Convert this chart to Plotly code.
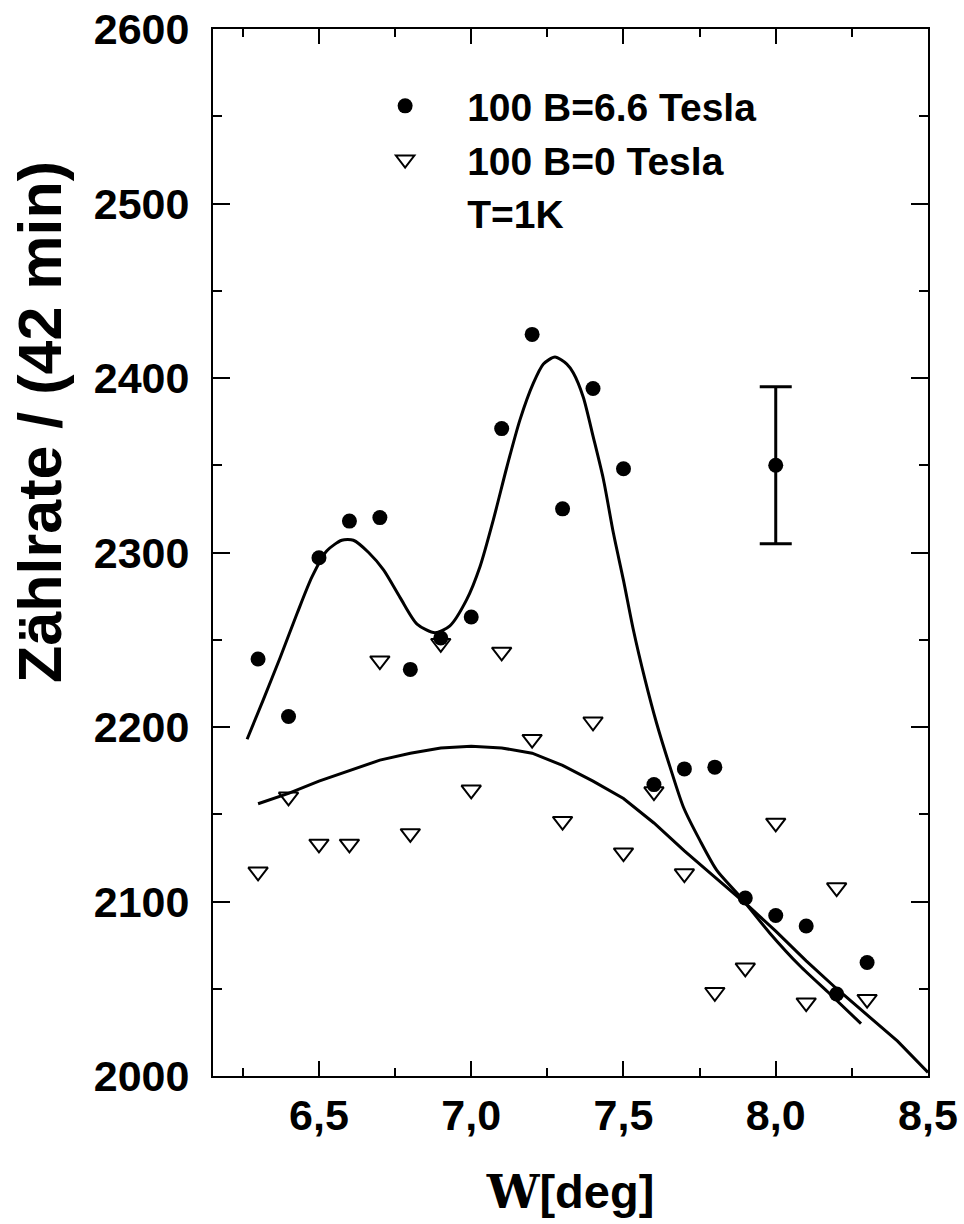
import plotly.graph_objects as go

# ---------------- data ----------------
angle_pts = [6.3, 6.4, 6.5, 6.6, 6.7, 6.8, 6.9, 7.0, 7.1, 7.2, 7.3, 7.4, 7.5,
             7.6, 7.7, 7.8, 7.9, 8.0, 8.1, 8.2, 8.3]
counts_b66 = [2239, 2206, 2297, 2318, 2320, 2233, 2251, 2263, 2371, 2425, 2325, 2394, 2348,
              2167, 2176, 2177, 2102, 2092, 2086, 2047, 2065]
counts_b0 = [2117, 2160, 2133, 2133, 2238, 2139, 2248, 2164, 2243, 2193, 2146, 2203, 2128,
             2163, 2116, 2048, 2062, 2145, 2042, 2108, 2044]

fit_b66_x = [6.264, 6.318, 6.373, 6.428, 6.477, 6.526, 6.575, 6.613, 6.663, 6.712, 6.767,
             6.822, 6.881, 6.93, 6.985, 7.029, 7.073, 7.117, 7.16, 7.204, 7.237, 7.275,
             7.314, 7.335, 7.368, 7.401, 7.434, 7.467, 7.5, 7.532, 7.571, 7.609, 7.653,
             7.697, 7.751, 7.806, 7.882, 7.98, 8.08, 8.178, 8.28]
fit_b66_y = [2193, 2216, 2240, 2265, 2286, 2301, 2307, 2307, 2300, 2290, 2274,
             2259, 2254, 2258, 2273, 2292, 2319, 2349, 2376, 2397, 2408, 2412,
             2408, 2403, 2389, 2366, 2342, 2311, 2284, 2256, 2227, 2202, 2177,
             2154, 2135, 2118, 2103, 2082, 2063, 2047, 2030]

fit_b0_x = [6.3, 6.4, 6.5, 6.6, 6.7, 6.8, 6.9, 7.0, 7.1, 7.2, 7.3, 7.4, 7.5, 7.6,
            7.7, 7.8, 7.9, 8.0, 8.1, 8.2, 8.3, 8.4, 8.5]
fit_b0_y = [2156, 2162, 2169, 2175, 2181, 2185, 2188, 2189, 2188, 2185, 2178, 2169, 2159, 2145,
            2129, 2114, 2099, 2083, 2066, 2050, 2035, 2020, 2002]

errbar_x = [8.0]
errbar_y = [2350]
errbar_err = [45]

x_tick_vals = [6.5, 7.0, 7.5, 8.0, 8.5]
x_tick_text = ["6,5", "7,0", "7,5", "8,0", "8,5"]
y_tick_vals = [2000, 2100, 2200, 2300, 2400, 2500, 2600]
y_tick_text = ["2000", "2100", "2200", "2300", "2400", "2500", "2600"]

legend_labels = ["100 B=6.6 Tesla", "100 B=0 Tesla", "T=1K"]

FONT = "Liberation Sans, Arial, Helvetica, sans-serif"

fig = go.Figure()

fig.add_trace(go.Scatter(x=fit_b0_x, y=fit_b0_y, mode="lines",
                         line=dict(color="black", width=3), showlegend=False))
fig.add_trace(go.Scatter(x=fit_b66_x, y=fit_b66_y, mode="lines",
                         line=dict(color="black", width=3, shape="spline", smoothing=0.7),
                         showlegend=False))

fig.add_trace(go.Scatter(x=angle_pts, y=counts_b0, mode="markers", name=legend_labels[1],
                         marker=dict(symbol="triangle-down-open", size=17, color="black",
                                     line=dict(color="black", width=2)),
                         legendgroup="b", legendrank=2))
fig.add_trace(go.Scatter(x=angle_pts, y=counts_b66, mode="markers", name=legend_labels[0],
                         marker=dict(symbol="circle", size=15, color="black"),
                         legendgroup="a", legendrank=1))
fig.add_trace(go.Scatter(x=[None], y=[None], mode="markers", name=legend_labels[2],
                         marker=dict(size=1, color="rgba(0,0,0,0)"),
                         legendgroup="c", legendrank=3))

fig.add_trace(go.Scatter(x=errbar_x, y=errbar_y, mode="markers", showlegend=False,
                         marker=dict(symbol="circle", size=15, color="black"),
                         error_y=dict(type="data", array=errbar_err, visible=True,
                                      color="black", thickness=3, width=16)))

axis_common = dict(showline=True, linewidth=2, linecolor="black", mirror="ticks",
                   ticks="inside", tickwidth=2, tickcolor="black", showgrid=False,
                   zeroline=False, automargin=False,
                   tickfont=dict(family=FONT, size=43, color="black", weight="bold"))

fig.update_xaxes(range=[6.152, 8.5], tickmode="array", tickvals=x_tick_vals,
                 ticktext=x_tick_text, ticklen=15, ticklabelstandoff=0,
                 minor=dict(tick0=6.0, dtick=0.25, ticks="inside", ticklen=8,
                            tickwidth=2, tickcolor="black", showgrid=False),
                 title=dict(text="<span style='font-family:DejaVu Serif;font-weight:bold'>W</span>[deg]",
                            font=dict(family=FONT, size=47, color="black", weight="bold"),
                            standoff=38),
                 **axis_common)
fig.update_yaxes(range=[2000, 2600], tickmode="array", tickvals=y_tick_vals,
                 ticktext=y_tick_text, ticklen=17, ticklabelstandoff=13,
                 minor=dict(tick0=2000, dtick=50, ticks="inside", ticklen=9,
                            tickwidth=2, tickcolor="black", showgrid=False),
                 **axis_common)

fig.add_annotation(text="Zählrate / (42 min)", xref="paper", yref="paper",
                   x=-0.243, y=0.625, xanchor="center", yanchor="middle",
                   textangle=-90, showarrow=False,
                   font=dict(family=FONT, size=61, color="black", weight="bold"))

fig.update_layout(
    width=964, height=1224,
    margin=dict(l=213, r=36, t=29, b=148),
    paper_bgcolor="white", plot_bgcolor="white",
    showlegend=True,
    legend=dict(x=0.182, y=0.957, xanchor="left", yanchor="top",
                bgcolor="rgba(0,0,0,0)", borderwidth=0, itemwidth=114,
                tracegroupgap=3, traceorder="normal",
                font=dict(family=FONT, size=39, color="black", weight="bold")),
)

fig.write_html("out.html")
